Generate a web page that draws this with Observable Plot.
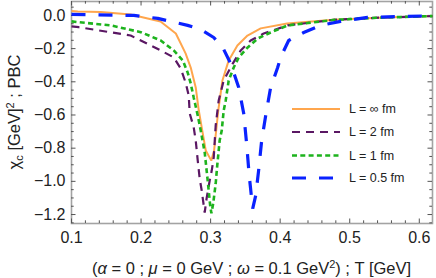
<!DOCTYPE html>
<html>
<head>
<meta charset="utf-8">
<script src="https://cdn.jsdelivr.net/npm/d3@7"></script>
<script src="https://cdn.jsdelivr.net/npm/@observablehq/plot@0.6"></script>
<style>
  html, body { margin: 0; padding: 0; background: white; }
</style>
</head>
<body>
<div id="chart"></div>
<script>
// ---- data ----
const seriesNames = ["L = ∞ fm", "L = 2 fm", "L = 1 fm", "L = 0.5 fm"];

const T_inf = [0.100,0.109,0.142,0.185,0.228,0.250,0.264,0.2714,0.2786,0.283,0.288,0.293,0.301,0.305,0.311,0.317,0.326,0.3385,0.353,0.372,0.410,0.477,0.55,0.619];
const V_inf = [0.027,0.024,0.021,0.006,-0.036,-0.109,-0.229,-0.314,-0.434,-0.573,-0.694,-0.814,-0.875,-0.814,-0.573,-0.392,-0.271,-0.181,-0.121,-0.078,-0.048,-0.026,-0.012,-0.004];

const T_2 = [0.100,0.1105,0.185,0.2283,0.247,0.257,0.264,0.2685,0.270,0.2757,0.2786,0.2815,0.2843,0.2872,0.2915,0.2944,0.2987,0.3016,0.3045,0.3073,0.3116,0.3188,0.3318,0.3433,0.3576,0.3763,0.4108,0.477,0.55,0.619];
const V_2 = [-0.066,-0.071,-0.121,-0.211,-0.253,-0.320,-0.404,-0.482,-0.591,-0.675,-0.754,-0.875,-0.983,-1.055,-1.188,-1.098,-0.995,-0.935,-0.856,-0.663,-0.513,-0.392,-0.290,-0.211,-0.151,-0.109,-0.060,-0.026,-0.012,-0.004];

const T_1 = [0.100,0.109,0.1565,0.1996,0.2283,0.247,0.260,0.267,0.2714,0.2757,0.2815,0.2858,0.2915,0.2958,0.2994,0.3011,0.3037,0.3073,0.3095,0.313,0.316,0.3188,0.3217,0.326,0.3332,0.3404,0.3533,0.3677,0.3863,0.4108,0.477,0.55,0.619];
const V_1 = [-0.036,-0.040,-0.060,-0.101,-0.151,-0.211,-0.271,-0.344,-0.410,-0.495,-0.603,-0.694,-0.826,-0.995,-1.146,-1.192,-1.134,-1.013,-0.905,-0.754,-0.694,-0.573,-0.513,-0.392,-0.314,-0.253,-0.193,-0.139,-0.103,-0.060,-0.027,-0.012,-0.004];

const T_05 = [0.100,0.1896,0.224,0.267,0.2858,0.3045,0.3174,0.3289,0.3404,0.3476,0.352,0.3555,0.3605,0.3648,0.369,0.3734,0.3792,0.3863,0.3964,0.4007,0.4122,0.4338,0.4582,0.4869,0.5257,0.5731,0.619];
const V_05 = [0.006,0.000,-0.018,-0.060,-0.084,-0.133,-0.193,-0.290,-0.434,-0.591,-0.784,-0.965,-1.164,-1.086,-0.935,-0.754,-0.603,-0.434,-0.314,-0.253,-0.151,-0.103,-0.060,-0.036,-0.012,-0.006,-0.002];

const xMajor = [0.1, 0.2, 0.3, 0.4, 0.5, 0.6];
const yMajor = [0.0, -0.2, -0.4, -0.6, -0.8, -1.0, -1.2];
const xMinor = d3.range(0.12, 0.62, 0.02).filter(v => Math.abs(v * 10 - Math.round(v * 10)) > 1e-6);
const yMinor = d3.range(-1.25, 0.09, 0.05).filter(v => Math.abs(v * 5 - Math.round(v * 5)) > 1e-6);

// ---- styles ----
const styles = [
  {stroke: "#ffa64d", strokeWidth: 2,   dash: null},
  {stroke: "#5a1763", strokeWidth: 2.2, dash: "8,6"},
  {stroke: "#1db31d", strokeWidth: 2.6, dash: "5,3.3"},
  {stroke: "#0a22ff", strokeWidth: 3.2, dash: "14,13"}
];
const seriesT = [T_inf, T_2, T_1, T_05];
const seriesV = [V_inf, V_2, V_1, V_05];
const rows = seriesT.map((ts, i) => ts.map((t, j) => ({T: t, v: seriesV[i][j]})));

const W = 436, H = 278;
const mL = 71, mR = 4, mT = 1, mB = 55;
const pH = H - mT - mB;
const pW = W - mL - mR;
const tickCol = "#555";
const FONT = "'Liberation Sans', Arial, sans-serif";
const TICKFS = 16, TITLEFS = 16.5;

const plot = Plot.plot({
  width: W, height: H,
  marginLeft: mL, marginRight: mR, marginTop: mT, marginBottom: mB,
  x: {domain: [0.1, 0.619]},
  y: {domain: [-1.254, 0.084]},
  style: {fontFamily: FONT, fontSize: TICKFS + "px", background: "white", color: "#222"},
  marks: [
    Plot.frame({stroke: "#a3a3a3", strokeWidth: 1.6}),
    // inward ticks, bottom & top
    Plot.ruleX(xMajor, {x: d => d, insetTop: pH - 4.5, stroke: tickCol}),
    Plot.ruleX(xMinor, {x: d => d, insetTop: pH - 2.7, stroke: tickCol}),
    Plot.ruleX(xMajor, {x: d => d, insetBottom: pH - 4.5, stroke: tickCol}),
    Plot.ruleX(xMinor, {x: d => d, insetBottom: pH - 2.7, stroke: tickCol}),
    // inward ticks, left & right
    Plot.ruleY(yMajor, {y: d => d, insetRight: pW - 4.5, stroke: tickCol}),
    Plot.ruleY(yMinor, {y: d => d, insetRight: pW - 2.7, stroke: tickCol}),
    Plot.ruleY(yMajor, {y: d => d, insetLeft: pW - 4.5, stroke: tickCol}),
    Plot.ruleY(yMinor, {y: d => d, insetLeft: pW - 2.7, stroke: tickCol}),
    Plot.axisX(xMajor, {tickSize: 0, tickPadding: 8, label: null, fontSize: TICKFS, tickFormat: d3.format(".1f")}),
    Plot.axisY(yMajor, {tickSize: 0, tickPadding: 6, label: null, fontSize: TICKFS, tickFormat: d3.format(".1f")}),
    ...rows.map((r, i) => Plot.line(r, {
      x: "T", y: "v",
      stroke: styles[i].stroke,
      strokeWidth: styles[i].strokeWidth,
      strokeDasharray: styles[i].dash,
      strokeLinecap: "butt",
      strokeLinejoin: "miter"
    }))
  ]
});

document.getElementById("chart").appendChild(plot);

const svg = d3.select(plot);
// make sure tick labels get the intended size
svg.selectAll("g[aria-label='x-axis tick label'], g[aria-label='y-axis tick label']")
  .attr("font-size", TICKFS).style("font-size", TICKFS + "px");

// legend
const legY = [109, 132, 155.5, 178];
const leg = svg.append("g").attr("text-anchor", "start");
seriesNames.forEach((name, i) => {
  leg.append("line")
    .attr("x1", 292).attr("x2", 340).attr("y1", legY[i]).attr("y2", legY[i])
    .attr("stroke", styles[i].stroke)
    .attr("stroke-width", styles[i].strokeWidth)
    .attr("stroke-dasharray", styles[i].dash);
  leg.append("text")
    .attr("x", 349).attr("y", legY[i]).attr("dy", "0.35em")
    .attr("text-anchor", "start")
    .attr("font-family", FONT)
    .style("font-size", "12.5px").attr("fill", "#222")
    .text(name);
});

// y axis title
const yt = svg.append("text")
  .attr("transform", `translate(20, ${mT + pH / 2}) rotate(-90)`)
  .attr("text-anchor", "middle")
  .attr("font-family", FONT)
  .style("font-size", TITLEFS + "px").attr("fill", "#222");
yt.append("tspan").text("χ");
yt.append("tspan").style("font-size", "11px").attr("dy", 3).text("c");
yt.append("tspan").attr("dy", -3).text(" [GeV]");
yt.append("tspan").style("font-size", "11px").attr("dy", -6).text("2");
yt.append("tspan").attr("dy", 6).text(" ; PBC");

// x axis title
const xt = svg.append("text")
  .attr("x", mL + pW / 2).attr("y", 274)
  .attr("text-anchor", "middle")
  .attr("font-family", FONT)
  .style("font-size", TITLEFS + "px").attr("fill", "#222");
xt.append("tspan").text("(");
xt.append("tspan").attr("font-style", "italic").text("α");
xt.append("tspan").text(" = 0 ; ");
xt.append("tspan").attr("font-style", "italic").text("μ");
xt.append("tspan").text(" = 0 GeV ; ");
xt.append("tspan").attr("font-style", "italic").text("ω");
xt.append("tspan").text(" = 0.1 GeV");
xt.append("tspan").style("font-size", "11px").attr("dy", -6).text("2");
xt.append("tspan").attr("dy", 6).text(") ; T [GeV]");
</script>
</body>
</html>
